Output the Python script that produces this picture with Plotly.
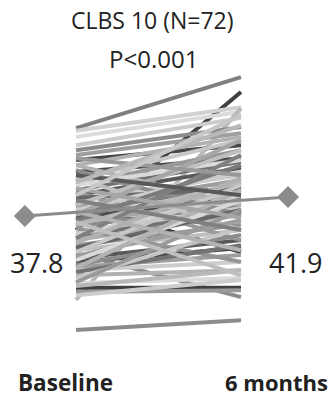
import plotly.graph_objects as go

# ---- data ----
timepoints = ["Baseline", "6 months"]
baseline = [56.8, 34.8, 56.2, 54.9, 19.7, 53.1, 52.0, 51.0, 49.9, 48.8, 47.3, 45.6,
            44.5, 43.4, 42.3, 41.2, 40.6, 39.7, 38.7, 38.0, 37.4, 36.5, 35.6, 34.3,
            33.5, 32.6, 31.5, 30.4, 29.8, 28.7, 27.9, 26.8, 26.1, 25.0, 23.3, 22.3,
            21.4, 13.2, 48.8, 47.7, 46.0, 44.5, 43.0, 41.7, 40.2, 39.1, 38.0, 36.9,
            35.9, 35.2, 33.7, 33.0, 32.0, 30.9, 30.0, 29.2, 28.3, 27.2, 26.6, 25.7,
            24.4, 23.5, 22.7, 20.7, 46.6, 43.8, 41.2, 38.7, 36.5, 50.3, 45.1, 42.3]
month6 = [67.8, 64.6, 61.3, 60.3, 61.1, 59.0, 57.0, 55.7, 53.1, 54.9, 50.3, 54.2,
          52.0, 49.5, 48.2, 46.6, 30.0, 45.6, 44.5, 43.0, 41.9, 41.2, 40.2, 39.5,
          38.7, 38.0, 35.9, 34.8, 20.3, 32.6, 30.9, 29.4, 27.9, 26.1, 24.4, 22.3,
          21.8, 15.3, 40.2, 38.0, 34.8, 49.9, 32.6, 43.8, 52.0, 47.3, 54.2, 48.8,
          45.1, 27.9, 42.3, 51.0, 46.0, 39.1, 44.5, 36.9, 41.2, 33.7, 43.4, 31.5,
          35.2, 39.1, 26.1, 24.0, 42.3, 37.4, 34.8, 30.4, 25.0, 46.6, 57.4, 59.6]
mean_values = [37.8, 41.9]
mean_labels = ["37.8", "41.9"]
title_text = "CLBS 10 (N=72)"
p_text = "P<0.001"

# ---- styles ----
shades = [0.50, 0.25, 0.82, 0.86, 0.72, 0.80, 0.55, 0.62, 0.28, 0.70, 0.30, 0.78,
          0.60, 0.45, 0.35, 0.80, 0.25, 0.62, 0.50, 0.72, 0.30, 0.65, 0.55, 0.78,
          0.45, 0.68, 0.58, 0.75, 0.55, 0.35, 0.30, 0.62, 0.80, 0.70, 0.85, 0.25,
          0.60, 0.55, 0.70, 0.55, 0.75, 0.85, 0.60, 0.40, 0.75, 0.80, 0.65, 0.48,
          0.72, 0.58, 0.82, 0.50, 0.70, 0.40, 0.78, 0.62, 0.85, 0.55, 0.70, 0.45,
          0.78, 0.60, 0.72, 0.80, 0.35, 0.65, 0.50, 0.70, 0.75, 0.60, 0.72, 0.78]
x_individual = [0, 1]
x_mean = [-0.31, 1.285]

fig = go.Figure()
for b, m, s in zip(baseline, month6, shades):
    g = int(round(s * 255))
    fig.add_trace(go.Scatter(x=x_individual, y=[b, m], mode="lines",
                             line=dict(color=f"rgb({g},{g},{g})", width=4),
                             hoverinfo="skip", showlegend=False))

fig.add_trace(go.Scatter(x=x_mean, y=mean_values, mode="lines+markers",
                         line=dict(color="#8c8c8c", width=3),
                         marker=dict(symbol="diamond", size=17, color="#8c8c8c"),
                         showlegend=False))

W, H = 331, 402
font = "Open Sans"
ann = []
def add(text, px, py, size, bold=False):
    ann.append(dict(text=f"<b>{text}</b>" if bold else text,
                    x=px / W, y=1 - py / H, xref="paper", yref="paper",
                    showarrow=False, xanchor="center", yanchor="middle",
                    font=dict(family=font, size=size, color="#222222")))

add(title_text, 152, 20, 23)
add(p_text, 153, 59, 24)
add(mean_labels[0], 36, 262, 27)
add(mean_labels[1], 295, 262, 27)
add(timepoints[0], 65, 382, 22.5, bold=True)
add(timepoints[1], 276, 382, 22, bold=True)

fig.update_layout(
    width=W, height=H, margin=dict(l=0, r=0, t=0, b=0),
    paper_bgcolor="white", plot_bgcolor="white",
    xaxis=dict(range=[-0.4606, 1.5455], visible=False, fixedrange=True),
    yaxis=dict(range=[-2.35, 84.45], visible=False, fixedrange=True),
    annotations=ann,
)
fig.write_html("out.html", config={"displayModeBar": False},
               post_script="document.body.style.margin='0';document.body.style.overflow='hidden';")
